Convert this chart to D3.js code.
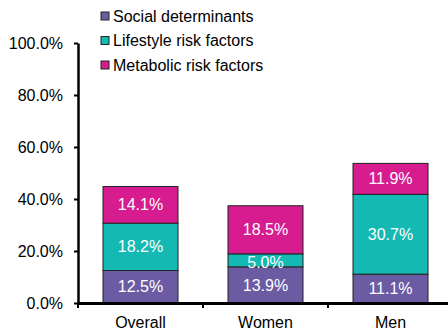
<!DOCTYPE html>
<html><head><meta charset="utf-8">
<script src="https://cdn.jsdelivr.net/npm/d3@7"></script>
<style>body{margin:0;background:#fff}svg{display:block}text{font-family:"Liberation Sans",Arial,sans-serif}</style>
</head><body>
<script>
const categories = ["Overall", "Women", "Men"];
const seriesNames = ["Social determinants", "Lifestyle risk factors", "Metabolic risk factors"];
const social = [12.5, 13.9, 11.1];
const lifestyle = [18.2, 5.0, 30.7];
const metabolic = [14.1, 18.5, 11.9];
const colors = ["#6b5ba3", "#14b9b3", "#d61c8e"];
const yTicks = [0, 20, 40, 60, 80, 100];

const W = 448, H = 333;
const svg = d3.select("body").append("svg").attr("width", W).attr("height", H);
const x = d3.scaleBand().domain(categories).range([78, 453]).paddingInner(0.4).paddingOuter(0.2);
const y = d3.scaleLinear().domain([0, 100]).range([303, 43]);

const rows = categories.map((c, i) => ({cat: c, s0: social[i], s1: lifestyle[i], s2: metabolic[i]}));
const stack = d3.stack().keys(["s0", "s1", "s2"])(rows);

stack.forEach((layer, li) => {
  const g = svg.append("g");
  layer.forEach(d => {
    g.append("rect")
      .attr("x", x(d.data.cat)).attr("width", x.bandwidth())
      .attr("y", y(d[1])).attr("height", y(d[0]) - y(d[1]))
      .attr("fill", colors[li]).attr("stroke", "#222").attr("stroke-width", 1);
    const v = d[1] - d[0];
    g.append("text")
      .attr("x", x(d.data.cat) + x.bandwidth() / 2)
      .attr("y", (y(d[0]) + y(d[1])) / 2 + (v < 8 ? 2 : 0))
      .attr("dy", "0.35em").attr("text-anchor", "middle")
      .attr("fill", "#fff").attr("font-size", 16)
      .text(v.toFixed(1) + "%");
  });
});

// y axis
const ya = svg.append("g").attr("transform", "translate(78,0)")
  .call(d3.axisLeft(y).tickValues(yTicks).tickFormat(d => d.toFixed(1) + "%").tickSize(4).tickSizeOuter(0));
ya.select(".domain").attr("stroke", "#000").attr("stroke-width", 2.5);
ya.selectAll(".tick line").attr("stroke", "#000").attr("stroke-width", 2);
ya.selectAll(".tick text").attr("font-size", 16).attr("fill", "#000").attr("x", -15);

// x axis
const xa = svg.append("g").attr("transform", "translate(0,303)")
  .call(d3.axisBottom(x).tickSize(0).tickSizeOuter(0));
xa.select(".domain").attr("stroke", "#000").attr("stroke-width", 3);
xa.selectAll(".tick text").attr("font-size", 16).attr("fill", "#000").attr("y", 14);
const bounds = [0, 1, 2, 3].map(i => 78 + i * x.step());
svg.append("g").selectAll("line").data(bounds).join("line")
  .attr("x1", d => d).attr("x2", d => d).attr("y1", 303).attr("y2", 308)
  .attr("stroke", "#000").attr("stroke-width", 2);

// legend
const lg = svg.append("g");
seriesNames.forEach((n, i) => {
  const yy = 16 + i * 24.5;
  lg.append("rect").attr("x", 101).attr("y", yy - 4).attr("width", 8).attr("height", 8)
    .attr("fill", colors[i]).attr("stroke", "#222").attr("stroke-width", 1);
  lg.append("text").attr("x", 113).attr("y", yy).attr("dy", "0.35em")
    .attr("font-size", 16).attr("fill", "#000").text(n);
});
</script>
</body></html>
